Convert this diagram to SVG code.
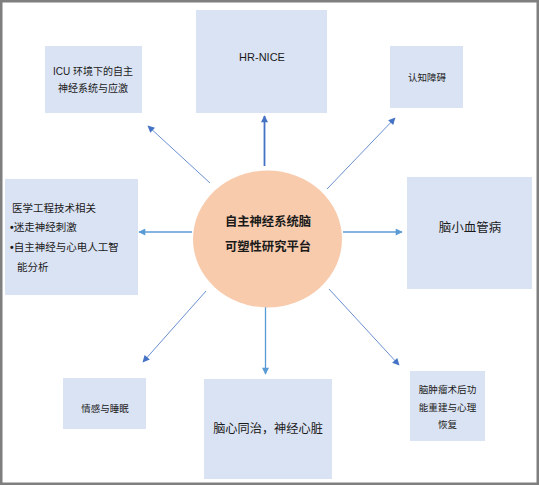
<svg xmlns="http://www.w3.org/2000/svg" width="539" height="485" viewBox="0 0 539 485">
<defs>
<style>
.box{fill:#DAE3F3;}
.t{font-family:"Liberation Sans","Noto Sans CJK SC",sans-serif;fill:#1a1a1a;dominant-baseline:central;}
.c{text-anchor:middle;}
.thin{stroke:#4472C4;stroke-width:0.8;fill:none;}
.mid{stroke:#5B9BD5;stroke-width:1.3;fill:none;}
.thick{stroke:#4472C4;stroke-width:1.8;fill:none;}
</style>
<marker id="ah" viewBox="0 0 10 10" refX="9" refY="5" markerWidth="8" markerHeight="7" markerUnits="userSpaceOnUse" orient="auto">
<path d="M0,0 L10,5 L0,10 Z" fill="#4472C4"/>
</marker>
<marker id="ah2" viewBox="0 0 10 10" refX="9" refY="5" markerWidth="8" markerHeight="7" markerUnits="userSpaceOnUse" orient="auto">
<path d="M0,0 L10,5 L0,10 Z" fill="#5B9BD5"/>
</marker>
</defs>
<rect x="0" y="0" width="539" height="485" fill="#ffffff"/>
<rect x="1.25" y="1.25" width="536.5" height="482.5" fill="none" stroke="#7f7f7f" stroke-width="2.5"/>

<g id="connectors">
<line class="thick" x1="264.5" y1="166" x2="264.5" y2="116" marker-end="url(#ah)"/>
<line class="thin" x1="210" y1="183" x2="148" y2="126" marker-end="url(#ah)"/>
<line class="thin" x1="327" y1="189" x2="395" y2="118" marker-end="url(#ah)"/>
<line class="mid" x1="192" y1="232" x2="139" y2="232" marker-end="url(#ah2)"/>
<line class="mid" x1="343" y1="232" x2="402" y2="232" marker-end="url(#ah2)"/>
<line class="thin" x1="206" y1="291" x2="143" y2="362" marker-end="url(#ah)"/>
<line class="thin" x1="329" y1="289" x2="399" y2="365" marker-end="url(#ah)"/>
<line class="mid" x1="265.5" y1="307" x2="265.5" y2="374" marker-end="url(#ah2)"/>
</g>

<g id="center">
<ellipse cx="267.5" cy="239" rx="74.5" ry="68.5" fill="#F8CBAD"/>
<text class="t c" x="268" y="222" font-size="12.3" font-weight="bold">自主神经系统脑</text>
<text class="t c" x="268" y="247" font-size="12.3" font-weight="bold">可塑性研究平台</text>
</g>

<g id="icu">
<rect class="box" x="45" y="46" width="97" height="67"/>
<text class="t c" x="93" y="71" font-size="10">ICU 环境下的自主</text>
<text class="t c" x="93" y="88" font-size="10">神经系统与应激</text>
</g>

<g id="hrnice">
<rect class="box" x="196" y="10" width="131" height="103"/>
<text class="t c" x="262" y="57" font-size="11">HR-NICE</text>
</g>

<g id="cognition">
<rect class="box" x="390" y="46" width="73" height="62"/>
<text class="t c" x="427" y="77" font-size="9.5">认知障碍</text>
</g>

<g id="engineering">
<rect class="box" x="5" y="179" width="133" height="116"/>
<text class="t" x="12" y="208" font-size="10.5">医学工程技术相关</text>
<text class="t" x="10" y="227" font-size="10.5"><tspan font-weight="bold">•</tspan>迷走神经刺激</text>
<text class="t" x="10" y="247" font-size="10.5"><tspan font-weight="bold">•</tspan>自主神经与心电人工智</text>
<text class="t" x="17" y="267" font-size="10.5">能分析</text>
</g>

<g id="svd">
<rect class="box" x="407" y="177" width="125" height="112"/>
<text class="t c" x="470" y="228" font-size="12.5">脑小血管病</text>
</g>

<g id="emotion">
<rect class="box" x="63" y="378" width="83" height="51"/>
<text class="t c" x="105" y="408" font-size="9.5">情感与睡眠</text>
</g>

<g id="brainheart">
<rect class="box" x="204" y="379" width="128" height="100"/>
<text class="t c" x="268" y="429" font-size="12.2">脑心同治，神经心脏</text>
</g>

<g id="tumor">
<rect class="box" x="410" y="371" width="75" height="70"/>
<text class="t c" x="447.5" y="389" font-size="9.6">脑肿瘤术后功</text>
<text class="t c" x="447.5" y="407" font-size="9.6">能重建与心理</text>
<text class="t c" x="447.5" y="424" font-size="9.6">恢复</text>
</g>
</svg>
